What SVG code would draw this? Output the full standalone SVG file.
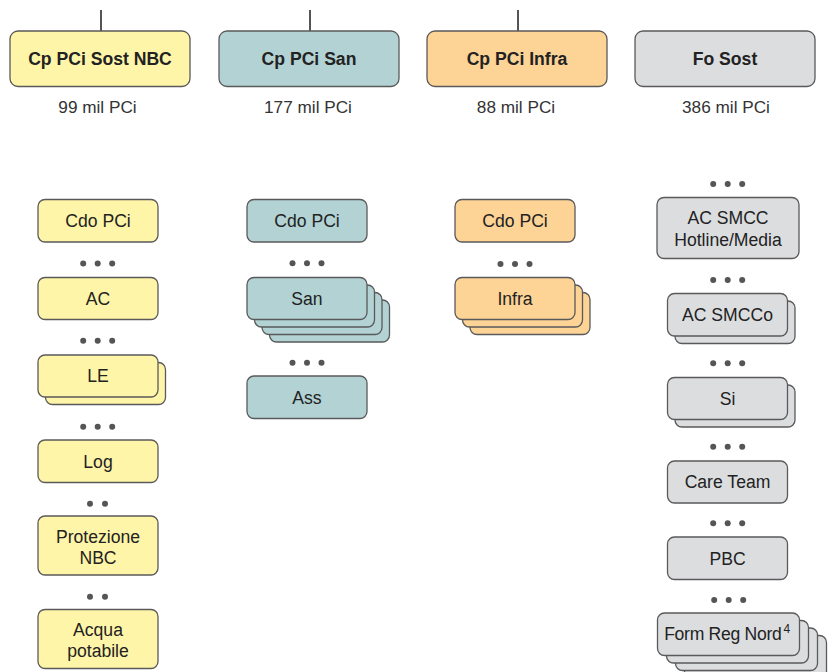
<svg xmlns="http://www.w3.org/2000/svg" width="830" height="672" viewBox="0 0 830 672">
<style>
  text { font-family: "Liberation Sans", Arial, Helvetica, sans-serif; fill: #222; text-anchor: middle; }
  .h { font-size: 17.6px; font-weight: bold; }
  .t { font-size: 17.6px; }
  .n { font-size: 17.2px; fill: #333; }
  .box { stroke: #5a5a5a; stroke-width: 1.3; }
  .y { fill: #FFF5A8; }
  .b { fill: #B3D2D4; }
  .o { fill: #FDD396; }
  .g { fill: #DCDDDF; }
  .dot { fill: #555; stroke: none; }
  .ln { stroke: #555; stroke-width: 2; fill: none; }
</style>
<defs>
  <g id="d3"><circle class="dot" cx="-14.5" cy="0" r="3"/><circle class="dot" cx="0" cy="0" r="3"/><circle class="dot" cx="14.5" cy="0" r="3"/></g>
  <g id="d2"><circle class="dot" cx="-7.5" cy="0" r="3"/><circle class="dot" cx="7.5" cy="0" r="3"/></g>
</defs>

<g id="connectors">
  <line class="ln" x1="101" y1="10" x2="101" y2="31"/>
  <line class="ln" x1="310" y1="10" x2="310" y2="31"/>
  <line class="ln" x1="518" y1="10" x2="518" y2="31"/>
</g>

<g id="hdr-nbc">
  <rect class="box y" x="10" y="31" width="180" height="55.5" rx="8"/>
  <text class="h" x="100" y="64.8">Cp PCi Sost NBC</text>
  <text class="n" x="97.5" y="113">99 mil PCi</text>
</g>
<g id="hdr-san">
  <rect class="box b" x="219" y="31" width="180" height="55.5" rx="8"/>
  <text class="h" x="309" y="64.8">Cp PCi San</text>
  <text class="n" x="308" y="113">177 mil PCi</text>
</g>
<g id="hdr-infra">
  <rect class="box o" x="427" y="31" width="180" height="55.5" rx="8"/>
  <text class="h" x="517" y="64.8">Cp PCi Infra</text>
  <text class="n" x="516" y="113">88 mil PCi</text>
</g>
<g id="hdr-fo">
  <rect class="box g" x="635" y="31" width="180" height="55.5" rx="8"/>
  <text class="h" x="725" y="64.8">Fo Sost</text>
  <text class="n" x="726" y="113">386 mil PCi</text>
</g>

<!-- Column 1 -->
<g id="c1-cdo">
  <rect class="box y" x="38" y="199.5" width="120" height="42.5" rx="7"/>
  <text class="t" x="98" y="227.3">Cdo PCi</text>
</g>
<use href="#d3" x="97.7" y="263.5"/>
<g id="c1-ac">
  <rect class="box y" x="38" y="277.5" width="120" height="42" rx="7"/>
  <text class="t" x="98" y="304.8">AC</text>
</g>
<use href="#d3" x="97.7" y="340.7"/>
<g id="c1-le">
  <rect class="box y" x="45.5" y="362.5" width="120" height="42" rx="7"/>
  <rect class="box y" x="38" y="355" width="120" height="42" rx="7"/>
  <text class="t" x="98" y="382.3">LE</text>
</g>
<use href="#d3" x="97.7" y="426.7"/>
<g id="c1-log">
  <rect class="box y" x="38" y="440" width="120" height="42.5" rx="7"/>
  <text class="t" x="98" y="467.8">Log</text>
</g>
<use href="#d2" x="97.5" y="503.7"/>
<g id="c1-prot">
  <rect class="box y" x="38" y="516" width="120" height="59" rx="7"/>
  <text class="t" x="98" y="542.7">Protezione</text>
  <text class="t" x="98" y="564">NBC</text>
</g>
<use href="#d2" x="97.5" y="596.7"/>
<g id="c1-acqua">
  <rect class="box y" x="38" y="609.5" width="120" height="59" rx="7"/>
  <text class="t" x="98" y="636">Acqua</text>
  <text class="t" x="98" y="656.5">potabile</text>
</g>

<!-- Column 2 -->
<g id="c2-cdo">
  <rect class="box b" x="247" y="199.5" width="120" height="42.5" rx="7"/>
  <text class="t" x="307" y="227.3">Cdo PCi</text>
</g>
<use href="#d3" x="307" y="263.3"/>
<g id="c2-san">
  <rect class="box b" x="269.5" y="300" width="120" height="42" rx="7"/>
  <rect class="box b" x="262" y="292.5" width="120" height="42" rx="7"/>
  <rect class="box b" x="254.5" y="285" width="120" height="42" rx="7"/>
  <rect class="box b" x="247" y="277.5" width="120" height="42" rx="7"/>
  <text class="t" x="307" y="304.8">San</text>
</g>
<use href="#d3" x="307" y="362.7"/>
<g id="c2-ass">
  <rect class="box b" x="247" y="376" width="120" height="42.5" rx="7"/>
  <text class="t" x="307" y="403.8">Ass</text>
</g>

<!-- Column 3 -->
<g id="c3-cdo">
  <rect class="box o" x="455" y="199.5" width="120" height="42.5" rx="7"/>
  <text class="t" x="515" y="227.3">Cdo PCi</text>
</g>
<use href="#d3" x="515" y="264"/>
<g id="c3-infra">
  <rect class="box o" x="470" y="292.5" width="120" height="42" rx="7"/>
  <rect class="box o" x="462.5" y="285" width="120" height="42" rx="7"/>
  <rect class="box o" x="455" y="277.5" width="120" height="42" rx="7"/>
  <text class="t" x="515" y="304.8">Infra</text>
</g>

<!-- Column 4 -->
<use href="#d3" x="727.7" y="184"/>
<g id="c4-acsmcc">
  <rect class="box g" x="657" y="197.5" width="142" height="61" rx="7"/>
  <text class="t" x="728" y="224">AC SMCC</text>
  <text class="t" x="728" y="245.5">Hotline/Media</text>
</g>
<use href="#d3" x="727.7" y="280"/>
<g id="c4-acsmcco">
  <rect class="box g" x="675" y="301" width="120" height="42.5" rx="7"/>
  <rect class="box g" x="667.5" y="293.5" width="120" height="42.5" rx="7"/>
  <text class="t" x="727.5" y="321.2">AC SMCCo</text>
</g>
<use href="#d3" x="727.7" y="363.3"/>
<g id="c4-si">
  <rect class="box g" x="675" y="385" width="120" height="42" rx="7"/>
  <rect class="box g" x="667.5" y="377.5" width="120" height="42" rx="7"/>
  <text class="t" x="727.5" y="404.8">Si</text>
</g>
<use href="#d3" x="727.7" y="446.7"/>
<g id="c4-care">
  <rect class="box g" x="667.5" y="461" width="120" height="42" rx="7"/>
  <text class="t" x="727.5" y="488.3">Care Team</text>
</g>
<use href="#d3" x="727.7" y="523.3"/>
<g id="c4-pbc">
  <rect class="box g" x="667.5" y="537" width="120" height="42.5" rx="7"/>
  <text class="t" x="727.5" y="564.8">PBC</text>
</g>
<use href="#d3" x="728.7" y="600"/>
<g id="c4-form">
  <rect class="box g" x="684.5" y="635.5" width="142" height="42.5" rx="7"/>
  <rect class="box g" x="675.5" y="628" width="142" height="42.5" rx="7"/>
  <rect class="box g" x="666.5" y="620.5" width="142" height="42.5" rx="7"/>
  <rect class="box g" x="657.5" y="613" width="142" height="42.5" rx="7"/>
  <text class="t" x="727" y="640" letter-spacing="-0.3">Form Reg Nord<tspan font-size="12" dx="2" dy="-7">4</tspan></text>
</g>
</svg>
